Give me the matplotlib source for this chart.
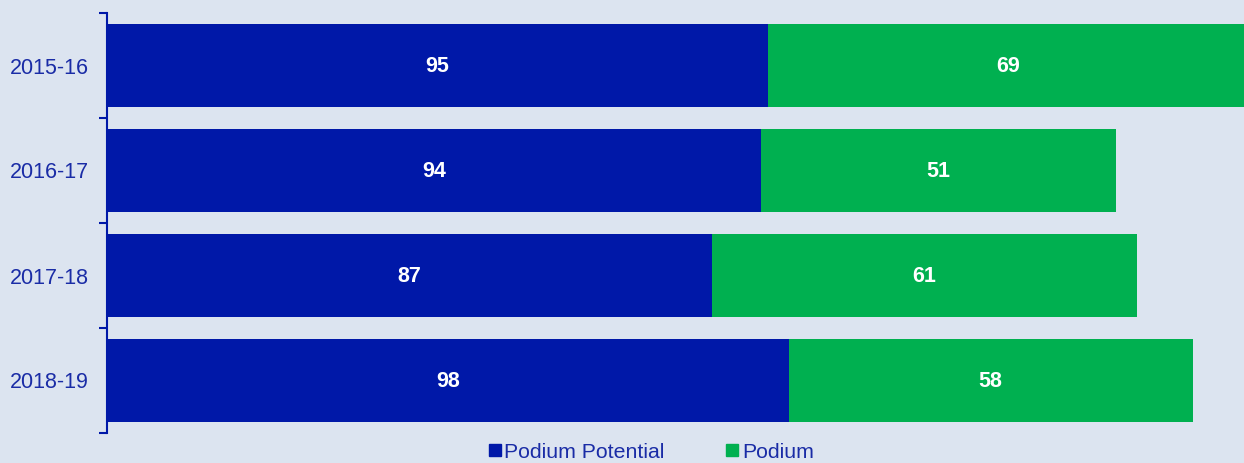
import matplotlib.pyplot as plt
from matplotlib.lines import Line2D

seasons = ['2015-16', '2016-17', '2017-18', '2018-19']
podium_potential = [95, 94, 87, 98]
podium = [69, 51, 61, 58]

bg = '#dce4f0'
blue = '#0018a8'
green = '#00b050'
txt = '#1a2ca6'

plt.rcParams['font.family'] = ['Liberation Sans', 'DejaVu Sans']

fig = plt.figure(figsize=(12.44, 4.63), dpi=100, facecolor=bg)
ax = fig.add_axes([107/1244, 30/463, 1 - 107/1244, 420/463])
ax.set_facecolor(bg)

y = list(range(len(seasons)))
ax.barh(y, podium_potential, height=0.79, color=blue)
ax.barh(y, podium, left=podium_potential, height=0.79, color=green)

for i in y:
    ax.text(podium_potential[i] / 2, i + 0.01, str(podium_potential[i]), color='white',
            fontsize=15.5, fontweight='bold', ha='center', va='center')
    ax.text(podium_potential[i] + podium[i] / 2, i + 0.01, str(podium[i]), color='white',
            fontsize=15.5, fontweight='bold', ha='center', va='center')

ax.set_xlim(0, 163.4)
ax.set_ylim(3.5, -0.5)
ax.set_xticks([])
ax.set_yticks(y)
ax.set_yticklabels(seasons, color=txt, fontsize=15.5)
ax.tick_params(axis='y', which='major', length=0, pad=13)
ax.set_yticks([-0.5, 0.5, 1.5, 2.5, 3.5], minor=True)
ax.tick_params(axis='y', which='minor', length=6, width=1.5, color=blue)
for s in ['top', 'right', 'bottom']:
    ax.spines[s].set_visible(False)
ax.spines['left'].set_color(blue)
ax.spines['left'].set_linewidth(1.5)

handles = [Line2D([], [], marker='s', linestyle='', color=blue, markersize=8),
           Line2D([], [], marker='s', linestyle='', color=green, markersize=8)]
fig.legend(handles, ['Podium Potential', 'Podium'], loc='center',
           bbox_to_anchor=(651/1244, 1 - 452/463), ncol=2, frameon=False,
           fontsize=15.3, labelcolor=txt, handlelength=0.6, handletextpad=0.15,
           columnspacing=2.9, borderpad=0)

fig.savefig('out.png', facecolor=bg)
